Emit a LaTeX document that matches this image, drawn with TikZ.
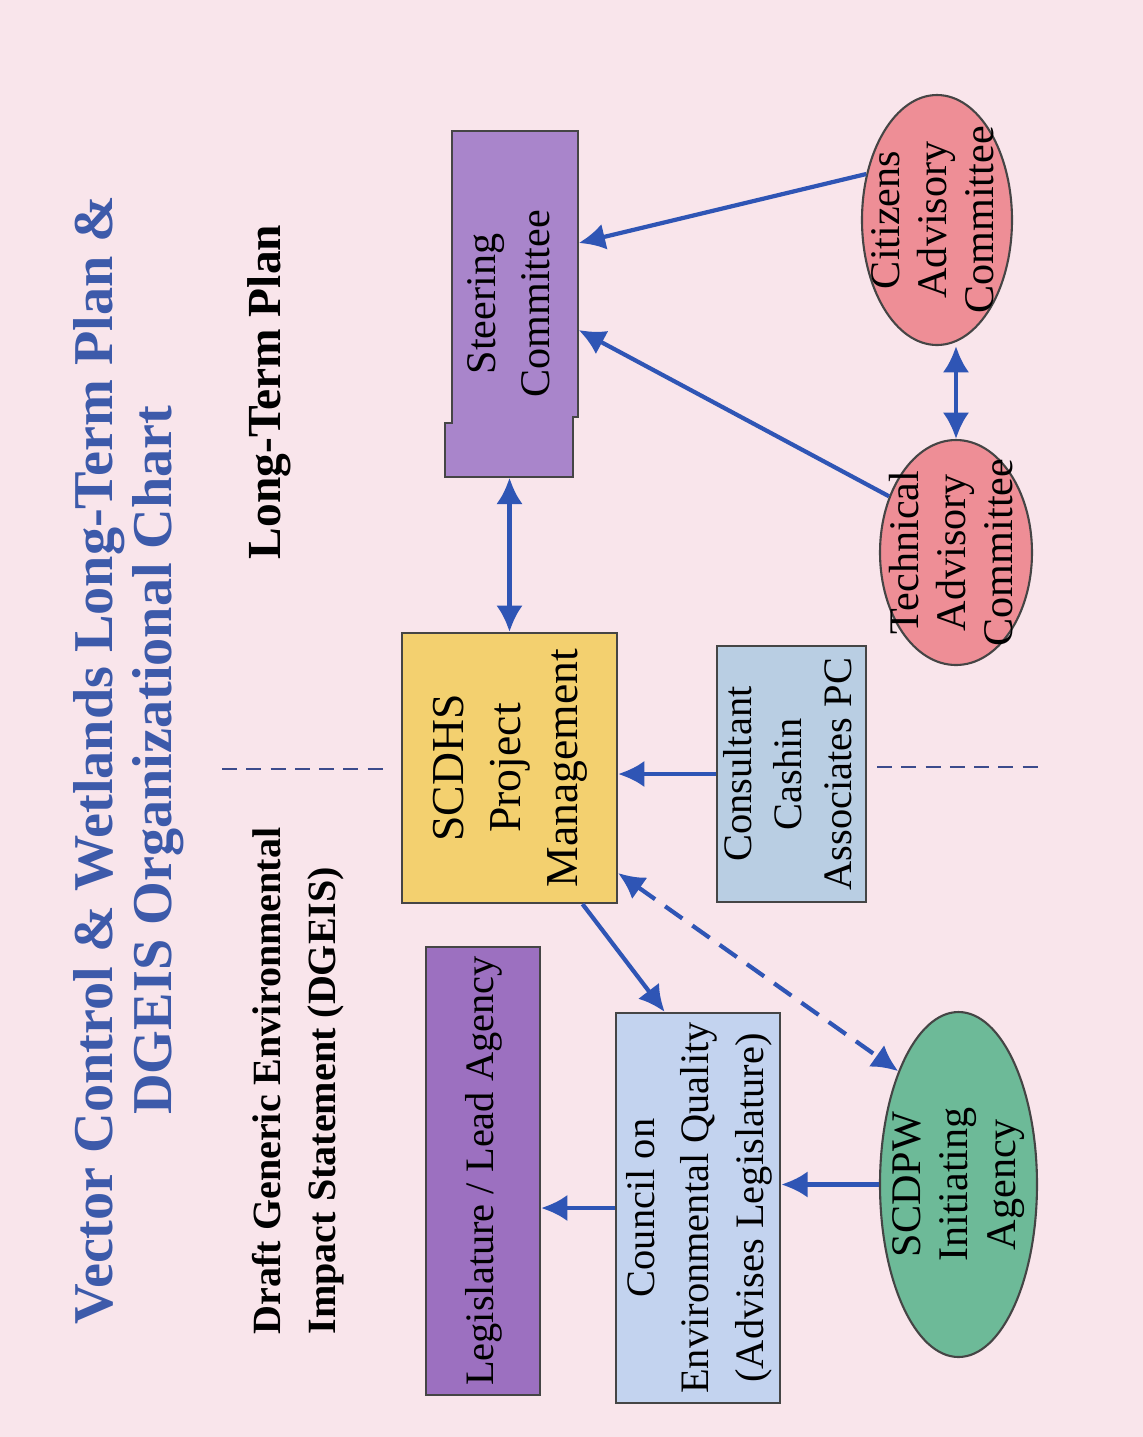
\documentclass[tikz,border=0pt]{standalone}
\usepackage{fontspec}
\setmainfont{Liberation Serif}
\usepackage{graphicx}
\usetikzlibrary{arrows.meta}
\usetikzlibrary{shapes.geometric}
\usetikzlibrary{positioning}

\definecolor{slidepink}{HTML}{F9E5EB}
\definecolor{titleblue}{HTML}{3D5AAA}
\definecolor{linkblue}{HTML}{2F55B5}
\definecolor{divblue}{HTML}{3C4B8C}
\definecolor{boxline}{HTML}{454545}
\definecolor{steerpurple}{HTML}{A985CB}
\definecolor{legispurple}{HTML}{9C70C0}
\definecolor{pmyellow}{HTML}{F3D06F}
\definecolor{consultblue}{HTML}{B9CEE3}
\definecolor{councilblue}{HTML}{C3D3EF}
\definecolor{agencygreen}{HTML}{6DBA98}
\definecolor{advisorypink}{HTML}{EE8E96}

% text turned a quarter turn, read from bottom to top
\newcommand{\uptext}[1]{\rotatebox{90}{\begin{tabular}{@{}c@{}}#1\end{tabular}}}
\newcommand{\uptextleft}[1]{\rotatebox{90}{\begin{tabular}{@{}l@{}}#1\end{tabular}}}

\tikzset{
    box/.style={draw=boxline, line width=0.6pt, inner sep=0pt,
        font=\fontsize{11.5}{15.6}\selectfont},
    oval/.style={ellipse, draw=boxline, line width=0.6pt, inner sep=0pt},
    ovaltext/.style={inner sep=0pt, font=\fontsize{12}{13.5}\selectfont},
    link/.style={->, draw=linkblue, line width=1.2pt},
    twolink/.style={<->, draw=linkblue, line width=1.2pt},
    dashlink/.style={<->, draw=linkblue, line width=1.2pt,
        dash pattern=on 6pt off 3.5pt},
    divider/.style={draw=divblue, line width=0.7pt,
        dash pattern=on 4.3pt off 2.6pt},
}

\begin{document}
\begin{tikzpicture}[>={Latex[length=7.5pt,width=7.5pt]}]
    % page
    \useasboundingbox (0,0) rectangle (11.43,-14.37);
    \fill [slidepink] (0,0) rectangle (11.43,-14.37);

    % headings
    \node [inner sep=0pt, text=titleblue, font=\fontsize{16}{17}\selectfont\bfseries]
        (title) at (1.30,-7.60)
        {\uptext{Vector Control \& Wetlands Long-Term Plan \&\\DGEIS Organizational Chart}};
    \node [inner sep=0pt, anchor=south, font=\fontsize{11.4}{15.6}\selectfont\bfseries]
        (dgeis) at (2.97,-13.35)
        {\uptextleft{Draft Generic Environmental\\Impact Statement (DGEIS)}};
    \node [inner sep=0pt, font=\fontsize{13.5}{15.6}\selectfont\bfseries]
        (ltp) at (2.70,-3.92) {\uptext{Long-Term Plan}};

    % dividing line
    \draw [divider] (2.22,-7.69) -- (3.87,-7.69);
    \draw [divider] (8.77,-7.67) -- (10.40,-7.67);

    % steering committee (box with a step at its foot)
    \filldraw [fill=steerpurple, draw=boxline, line width=0.6pt]
        (4.52,-1.31) -- (5.78,-1.31) -- (5.78,-4.17) -- (5.73,-4.17)
        -- (5.73,-4.77) -- (4.45,-4.77) -- (4.45,-4.23) -- (4.52,-4.23) -- cycle;
    \node [inner sep=0pt, minimum width=1.33cm, minimum height=3.46cm,
        font=\fontsize{12}{15.6}\selectfont]
        (steer) at (5.115,-3.04) {\uptext{Steering\\Committee}};

    % boxes
    \node [box, fill=pmyellow, minimum width=2.15cm, minimum height=2.70cm,
        font=\fontsize{13}{16.2}\selectfont]
        (pm) at (5.095,-7.68) {\uptext{SCDHS\\Project\\Management}};
    \node [box, fill=consultblue, minimum width=1.45cm, minimum height=2.56cm,
        font=\fontsize{11.5}{14.2}\selectfont]
        (consult) at (7.915,-7.74) {\uptext{Consultant\\Cashin\\Associates PC}};
    \node [box, fill=legispurple, minimum width=1.14cm, minimum height=4.48cm]
        (legis) at (4.83,-11.71) {\uptext{Legislature / Lead Agency}};
    \node [box, fill=councilblue, minimum width=1.60cm, minimum height=3.90cm]
        (council) at (6.98,-12.08)
        {\uptext{Council on\\Environmental Quality\\(Advises Legislature)}};

    % ovals
    \node [oval, fill=agencygreen, minimum width=1.57cm, minimum height=3.45cm]
        (scdpw) at (9.585,-11.845) {};
    \node [ovaltext] (scdpwtext) at (scdpw) {\uptext{SCDPW\\Initiating\\Agency}};
    \node [oval, fill=advisorypink, minimum width=1.52cm, minimum height=2.25cm]
        (tech) at (9.56,-5.525) {};
    \node [ovaltext] (techtext) at (tech) {\uptext{Technical\\Advisory\\Committee}};
    \node [oval, fill=advisorypink, minimum width=1.50cm, minimum height=2.50cm]
        (cit) at (9.37,-2.20) {};
    \node [ovaltext] (cittext) at (cit) {\uptext{Citizens\\Advisory\\Committee}};

    % links
    \draw [twolink] (pm.north) -- (pm.north |- steer.south);
    \draw [link] (tech.140) -- ([yshift=-0.26cm]steer.east);
    \draw [link] (cit.147) -- ([yshift=0.61cm]steer.east);
    \draw [twolink] (tech.north) -- (tech.north |- cit.south);
    \draw [link] (consult.west) -- (consult.west -| pm.east);
    \draw [link] ([xshift=0.73cm]pm.south) -- ([xshift=0.5cm]council.north west);
    \draw [dashlink] ([yshift=-1.05cm]pm.east) -- (scdpw.118);
    \draw [link] (scdpw.west) -- (scdpw.west -| council.east);
    \draw [link] (council.west) -- (council.west -| legis.east);
\end{tikzpicture}
\end{document}
